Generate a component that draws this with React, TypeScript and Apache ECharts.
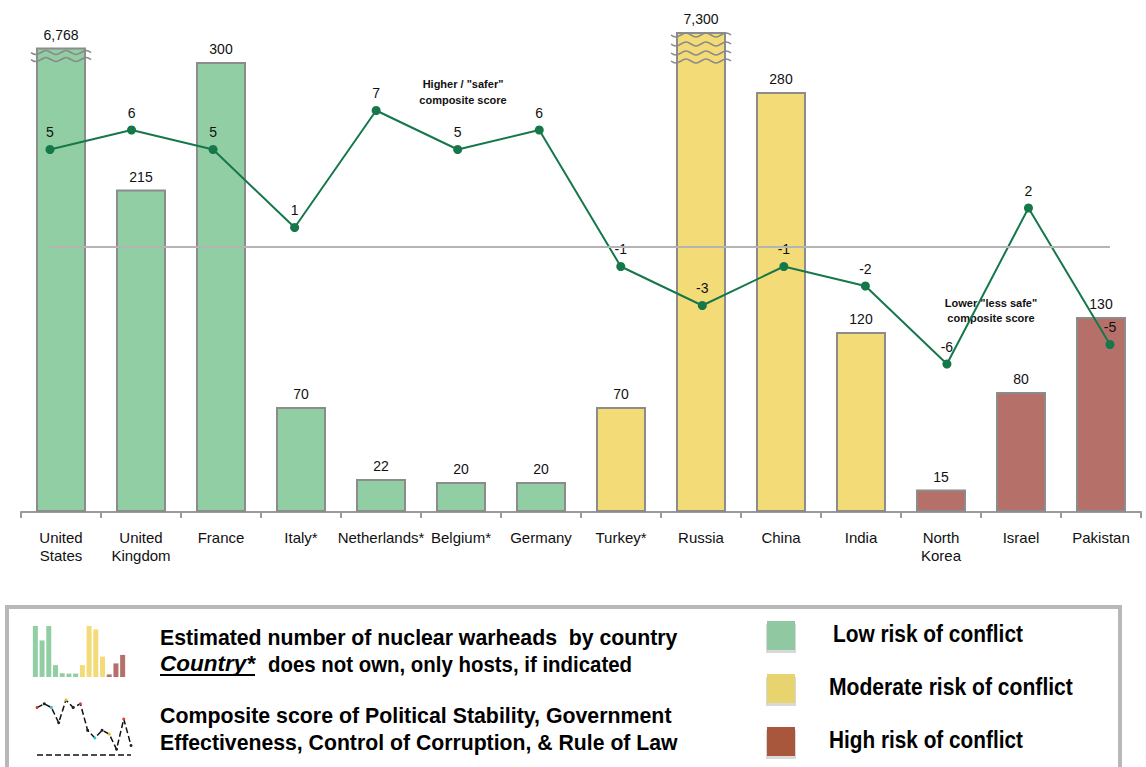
import React, { useEffect, useRef } from 'react';
import * as echarts from 'echarts';

// Countries on the category axis (line breaks are part of the label)
const countries = [
  'United\nStates', 'United\nKingdom', 'France', 'Italy*', 'Netherlands*', 'Belgium*', 'Germany',
  'Turkey*', 'Russia', 'China', 'India', 'North\nKorea', 'Israel', 'Pakistan',
];
// Estimated number of nuclear warheads
const warheads = [6768, 215, 300, 70, 22, 20, 20, 70, 7300, 280, 120, 15, 80, 130];
// Composite governance score
const compositeScores = [5, 6, 5, 1, 7, 5, 6, -1, -3, -1, -2, -6, 2, -5];
// Conflict risk per country
const riskLevels = [
  'low', 'low', 'low', 'low', 'low', 'low', 'low',
  'moderate', 'moderate', 'moderate', 'moderate', 'high', 'high', 'high',
];
const riskLabels = ['Low risk of conflict', 'Moderate risk of conflict', 'High risk of conflict'];
const riskKeys = ['low', 'moderate', 'high'];

const barColors: Record<string, string> = { low: '#91cea4', moderate: '#f3dc78', high: '#b5706a' };
const swatchColors: Record<string, string> = { low: '#90c9a1', moderate: '#e8d46f', high: '#a8573c' };
const miniDotColors = ['#e03a3a', '#222', '#2fc4c4', '#222', '#d4c030', '#222'];

const FONT = '"Liberation Sans", Arial, sans-serif';

export default function App() {
  const ref = useRef<HTMLDivElement>(null);

  useEffect(() => {
    if (!ref.current) return;
    const chart = echarts.init(ref.current, undefined, { renderer: 'svg' });

    const barData = warheads.map((v, i) => ({
      value: v,
      itemStyle: { color: barColors[riskLevels[i]] },
    }));
    const miniBarData = warheads.map((v, i) => ({
      value: v,
      itemStyle: { color: barColors[riskLevels[i]] },
    }));

    chart.setOption({
      animation: false,
      textStyle: { fontFamily: FONT },
      grid: [
        { left: 21, right: 5, top: 32, bottom: 255 },
        { left: 50, right: 36, top: 13, bottom: 266.5 },
        { left: 32, width: 94, top: 626, height: 51 },
        { left: 37, width: 94, top: 700, height: 55 },
      ],
      xAxis: [
        {
          type: 'category',
          gridIndex: 0,
          data: countries,
          axisLine: { lineStyle: { color: '#9a9a9a', width: 2 } },
          axisTick: { show: true, length: 6, lineStyle: { color: '#9a9a9a', width: 2 } },
          axisLabel: {
            interval: 0,
            color: '#111',
            fontSize: 15,
            lineHeight: 18,
            margin: 16,
            fontFamily: FONT,
          },
        },
        { type: 'category', gridIndex: 1, data: countries, boundaryGap: false, show: false },
        { type: 'category', gridIndex: 2, data: countries, show: false },
        { type: 'category', gridIndex: 3, data: countries, boundaryGap: false, show: false },
      ],
      yAxis: [
        {
          type: 'value',
          gridIndex: 0,
          min: 0,
          max: 7300,
          show: false,
          splitLine: { show: false },
          breaks: [{ start: 305, end: 7290, gap: 5 }],
          breakArea: { show: false },
        },
        { type: 'value', gridIndex: 1, min: -13, max: 12, show: false, splitLine: { show: false } },
        { type: 'value', gridIndex: 2, min: 0, max: 300, show: false, splitLine: { show: false } },
        { type: 'value', gridIndex: 3, min: -7.5, max: 7, show: false, splitLine: { show: false } },
      ],
      series: [
        {
          type: 'bar',
          xAxisIndex: 0,
          yAxisIndex: 0,
          data: barData,
          barWidth: 50,
          itemStyle: { borderColor: '#8c8c8c', borderWidth: 2 },
          label: {
            show: true,
            position: 'top',
            distance: 6,
            color: '#111',
            fontSize: 14,
            fontFamily: FONT,
            formatter: (p: any) => Number(p.value).toLocaleString('en-US'),
          },
          silent: true,
        },
        {
          type: 'line',
          xAxisIndex: 1,
          yAxisIndex: 1,
          data: compositeScores,
          color: '#16784a',
          lineStyle: { color: '#16784a', width: 2 },
          symbol: 'circle',
          symbolSize: 9,
          itemStyle: { color: '#16784a' },
          label: {
            show: true,
            position: 'top',
            distance: 6,
            color: '#111',
            fontSize: 14,
            fontFamily: FONT,
          },
          markLine: {
            silent: true,
            symbol: 'none',
            label: { show: false },
            lineStyle: { color: '#b4b4b4', width: 2, type: 'solid' },
            data: [{ yAxis: 0 }],
          },
          silent: true,
          z: 3,
        },
        {
          type: 'bar',
          xAxisIndex: 2,
          yAxisIndex: 2,
          data: miniBarData,
          barWidth: 5,
          silent: true,
        },
        {
          type: 'line',
          xAxisIndex: 3,
          yAxisIndex: 3,
          data: compositeScores,
          lineStyle: { color: '#111', width: 1.5, type: 'dashed' },
          symbol: 'circle',
          symbolSize: 3,
          itemStyle: { color: (p: any) => miniDotColors[p.dataIndex % miniDotColors.length] },
          markLine: {
            silent: true,
            symbol: 'none',
            label: { show: false },
            lineStyle: { color: '#111', width: 1.5, type: 'dashed' },
            data: [{ yAxis: -7.5 }],
          },
          silent: true,
        },
      ],
    });

    // Text measuring, so each legend line can be squeezed to its box width
    const canvas = document.createElement('canvas');
    const ctx = canvas.getContext('2d')!;
    const measure = (text: string, font: string) => {
      ctx.font = font;
      return ctx.measureText(text).width || 1;
    };
    const fitText = (text: string, left: number, right: number, cy: number, font: string) => ({
      type: 'text',
      x: left,
      y: cy,
      scaleX: (right - left) / measure(text, font),
      silent: true,
      style: {
        text,
        x: 0,
        y: 0,
        font,
        fill: '#000',
        align: 'left',
        verticalAlign: 'middle',
        textAlign: 'left',
        textVerticalAlign: 'middle',
      },
    });

    const legendFont = `bold 22px "Liberation Sans", Arial, sans-serif`;
    const legendItalic = `italic bold 22px "Liberation Sans", Arial, sans-serif`;
    const riskFont = `bold 23px "Liberation Sans", Arial, sans-serif`;
    const noteFont = `bold 11px "Liberation Sans", Arial, sans-serif`;

    const graphics: any[] = [
      {
        type: 'rect',
        silent: true,
        z: -1,
        shape: { x: 7, y: 607, width: 1113, height: 200 },
        style: { fill: 'none', stroke: '#b8b8b8', lineWidth: 4 },
      },
      fitText('Estimated number of nuclear warheads  by country', 160, 678, 637, legendFont),
      fitText('Country*', 160, 255, 664, legendItalic),
      {
        type: 'line',
        silent: true,
        shape: { x1: 160, y1: 675, x2: 255, y2: 675 },
        style: { stroke: '#000', lineWidth: 2 },
      },
      fitText('does not own, only hosts, if indicated', 268, 632, 664, legendFont),
      fitText('Composite score of Political Stability, Government', 160, 672, 715, legendFont),
      fitText('Effectiveness, Control of Corruption, & Rule of Law', 160, 678, 742, legendFont),
      {
        type: 'text',
        silent: true,
        x: 463,
        y: 92,
        style: {
          text: 'Higher / "safer"\ncomposite score',
          font: noteFont,
          lineHeight: 16,
          fill: '#111',
          align: 'center',
          verticalAlign: 'middle',
          textAlign: 'center',
          textVerticalAlign: 'middle',
        },
      },
      {
        type: 'text',
        silent: true,
        x: 991,
        y: 310,
        style: {
          text: 'Lower "less safe"\ncomposite score',
          font: noteFont,
          lineHeight: 15,
          fill: '#111',
          align: 'center',
          verticalAlign: 'middle',
          textAlign: 'center',
          textVerticalAlign: 'middle',
        },
      },
    ];

    // Risk colour swatches with their labels
    const swatchTops = [621, 674, 727];
    const labelLefts = [833, 829, 829];
    const labelRights = [1023, 1073, 1023];
    riskKeys.forEach((k, i) => {
      graphics.push({
        type: 'rect',
        silent: true,
        shape: { x: 766, y: swatchTops[i] + 3, width: 30, height: 29 },
        style: { fill: '#d9d9d9' },
      });
      graphics.push({
        type: 'rect',
        silent: true,
        shape: { x: 767, y: swatchTops[i], width: 28, height: 29 },
        style: { fill: swatchColors[k] },
      });
      graphics.push(
        fitText(riskLabels[i], labelLefts[i], labelRights[i], swatchTops[i] + 13, riskFont),
      );
    });

    // Wavy break marks on the bars whose values run off the scale
    const wave = (cx: number, y: number) => {
      const pts: number[][] = [];
      for (let i = 0; i <= 12; i++) {
        pts.push([cx - 30 + i * 5, y + Math.round(Math.sin((i * Math.PI) / 2)) * 2]);
      }
      return {
        type: 'polyline',
        silent: true,
        z: 10,
        shape: { points: pts, smooth: 0.5 },
        style: { stroke: '#8a8a8a', lineWidth: 1.6, fill: 'none' },
      };
    };
    const brokenOffsets: Record<number, number[]> = { 0: [5, 12], 8: [3, 12, 21, 29] };
    Object.keys(brokenOffsets).forEach((key) => {
      const idx = Number(key);
      const pt = chart.convertToPixel({ xAxisIndex: 0, yAxisIndex: 0 }, [idx, warheads[idx]]) as number[];
      if (!pt) return;
      brokenOffsets[idx].forEach((off) => graphics.push(wave(pt[0], pt[1] + off)));
    });

    chart.setOption({ graphic: graphics });

    return () => chart.dispose();
  }, []);

  return (
    <div
      ref={ref}
      style={{ position: 'fixed', left: 0, top: 0, width: 1146, height: 767, background: '#fff' }}
    />
  );
}
